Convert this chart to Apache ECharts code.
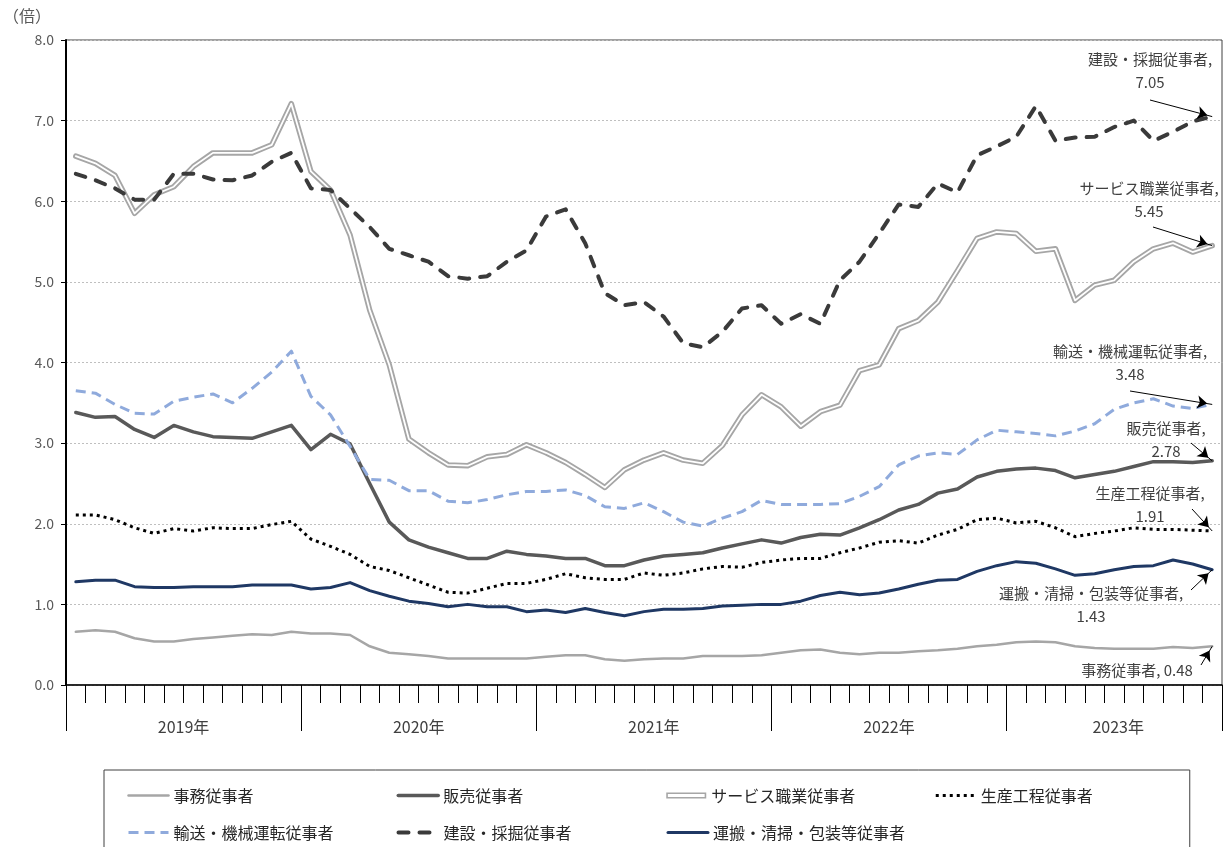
<!DOCTYPE html>
<html>
<head>
<meta charset="utf-8">
<script src="https://cdn.jsdelivr.net/npm/echarts@6/dist/echarts.min.js"></script>
<style>
  html, body { margin: 0; padding: 0; background: #fff; }
  #chart { width: 1228px; height: 847px; }
</style>
</head>
<body>
<div id="chart"></div>
<script>
// Monthly job-openings-to-applicants ratio by occupation, Jan 2019 – Nov 2023
const years = ['2019年', '2020年', '2021年', '2022年', '2023年'];
const monthsPerYear = [12, 12, 12, 12, 11];
const categories = [];
years.forEach((y, k) => {
  for (let m = 1; m <= monthsPerYear[k]; m++) categories.push(y + m + '月');
});

const seriesNames = [
  '事務従事者', '販売従事者', 'サービス職業従事者', '生産工程従事者',
  '輸送・機械運転従事者', '建設・採掘従事者', '運搬・清掃・包装等従事者'
];

const jimu = [0.66,0.68,0.66,0.58,0.54,0.54,0.57,0.59,0.61,0.63,0.62,0.66,
  0.64,0.64,0.62,0.48,0.40,0.38,0.36,0.33,0.33,0.33,0.33,0.33,
  0.35,0.37,0.37,0.32,0.30,0.32,0.33,0.33,0.36,0.36,0.36,0.37,
  0.40,0.43,0.44,0.40,0.38,0.40,0.40,0.42,0.43,0.45,0.48,0.50,
  0.53,0.54,0.53,0.48,0.46,0.45,0.45,0.45,0.47,0.46,0.48];

const hanbai = [3.38,3.32,3.33,3.17,3.07,3.22,3.14,3.08,3.07,3.06,3.14,3.22,
  2.92,3.11,2.99,2.50,2.02,1.80,1.71,1.64,1.57,1.57,1.66,1.62,
  1.60,1.57,1.57,1.48,1.48,1.55,1.60,1.62,1.64,1.70,1.75,1.80,
  1.76,1.83,1.87,1.86,1.95,2.05,2.17,2.24,2.38,2.43,2.58,2.65,
  2.68,2.69,2.66,2.57,2.61,2.65,2.71,2.77,2.77,2.76,2.78];

const service = [6.56,6.47,6.32,5.85,6.08,6.18,6.43,6.60,6.60,6.60,6.70,7.21,
  6.37,6.14,5.58,4.65,3.97,3.05,2.88,2.73,2.72,2.83,2.86,2.98,
  2.88,2.76,2.61,2.45,2.67,2.79,2.88,2.79,2.75,2.97,3.35,3.60,
  3.45,3.21,3.39,3.47,3.90,3.97,4.42,4.52,4.75,5.14,5.54,5.62,
  5.60,5.38,5.41,4.77,4.96,5.02,5.25,5.41,5.48,5.37,5.45];

const seisan = [2.11,2.11,2.05,1.95,1.88,1.94,1.91,1.95,1.94,1.94,1.99,2.03,
  1.81,1.72,1.62,1.47,1.42,1.33,1.24,1.15,1.14,1.20,1.26,1.26,
  1.31,1.38,1.33,1.31,1.31,1.39,1.36,1.39,1.44,1.47,1.46,1.52,
  1.55,1.57,1.57,1.64,1.70,1.77,1.79,1.76,1.86,1.93,2.05,2.07,
  2.01,2.03,1.95,1.84,1.88,1.91,1.95,1.93,1.93,1.92,1.91];

const yuso = [3.65,3.62,3.48,3.37,3.36,3.52,3.57,3.61,3.50,3.68,3.88,4.14,
  3.58,3.35,2.96,2.55,2.54,2.41,2.41,2.28,2.26,2.30,2.36,2.40,
  2.40,2.42,2.35,2.21,2.19,2.26,2.15,2.02,1.97,2.07,2.15,2.29,
  2.24,2.24,2.24,2.25,2.34,2.46,2.73,2.84,2.88,2.86,3.04,3.16,
  3.14,3.12,3.09,3.15,3.24,3.42,3.50,3.55,3.46,3.43,3.48];

const kensetsu = [6.34,6.26,6.16,6.02,6.02,6.34,6.34,6.27,6.26,6.32,6.49,6.60,
  6.16,6.14,5.91,5.68,5.41,5.33,5.25,5.07,5.04,5.07,5.25,5.39,
  5.81,5.90,5.48,4.86,4.71,4.75,4.57,4.24,4.19,4.38,4.67,4.71,
  4.48,4.60,4.48,5.02,5.25,5.60,5.96,5.93,6.22,6.11,6.57,6.68,
  6.80,7.18,6.75,6.79,6.80,6.92,7.00,6.75,6.86,6.99,7.05];

const unpan = [1.28,1.30,1.30,1.22,1.21,1.21,1.22,1.22,1.22,1.24,1.24,1.24,
  1.19,1.21,1.27,1.17,1.10,1.04,1.01,0.97,1.00,0.97,0.97,0.91,
  0.93,0.90,0.95,0.90,0.86,0.91,0.94,0.94,0.95,0.98,0.99,1.00,
  1.00,1.04,1.11,1.15,1.12,1.14,1.19,1.25,1.30,1.31,1.41,1.48,
  1.53,1.51,1.44,1.36,1.38,1.43,1.47,1.48,1.55,1.50,1.43];

const yTickLabels = ['0.0','1.0','2.0','3.0','4.0','5.0','6.0','7.0','8.0'];

const FONT = '"Noto Sans CJK JP", "Noto Sans", sans-serif';
const last = categories.length - 1;

// arrow from a label anchor (pixels) to the final data point of a series
function arrowTo(values, sx, sy) {
  return {
    silent: true,
    animation: false,
    symbol: ['none', 'arrow'],
    symbolSize: 10,
    symbolOffset: [0, [0, 5]],
    lineStyle: { color: '#000', width: 1, type: 'solid', cap: 'butt' },
    itemStyle: { color: '#000' },
    label: { show: false },
    emphasis: { disabled: true },
    data: [[{ x: sx, y: sy }, { coord: [categories[last], values[last]] }]]
  };
}

function lineSeries(name, values, color, width, dash, cap, extra) {
  return Object.assign({
    name: name,
    type: 'line',
    data: values,
    symbol: 'none',
    smooth: false,
    animation: false,
    color: color,
    lineStyle: { color: color, width: width, type: dash, cap: cap || 'butt', join: 'round' },
    emphasis: { disabled: true }
  }, extra || {});
}

// callout texts: name, latest value, centre x, first-line centre y
const callouts = [
  { name: seriesNames[5], values: kensetsu, x: 1150, y: 59, two: true },
  { name: seriesNames[2], values: service, x: 1149, y: 188, two: true },
  { name: seriesNames[4], values: yuso, x: 1130, y: 351, two: true },
  { name: seriesNames[1], values: hanbai, x: 1166, y: 428, two: true },
  { name: seriesNames[3], values: seisan, x: 1150, y: 493, two: true },
  { name: seriesNames[6], values: unpan, x: 1091, y: 593, two: true },
  { name: seriesNames[0], values: jimu, x: 1137, y: 670, two: false }
];
const LINE_H = 23;
const graphicTexts = callouts.map(c => ({
  type: 'text',
  z: 100,
  style: {
    text: c.two ? c.name + ',\n' + c.values[last].toFixed(2) : c.name + ', ' + c.values[last].toFixed(2),
    x: c.x,
    y: c.y - LINE_H / 2,
    align: 'center',
    verticalAlign: 'top',
    lineHeight: LINE_H,
    fill: '#404040',
    font: '15px ' + FONT
  }
}));
graphicTexts.push({
  type: 'text',
  style: { text: '（倍）', x: 3, y: 8, fill: '#595959', font: '16px ' + FONT }
});

const chart = echarts.init(document.getElementById('chart'), null, { renderer: 'canvas' });

chart.setOption({
  backgroundColor: '#fff',
  textStyle: { fontFamily: FONT },
  animation: false,
  grid: {
    left: 66, right: 6, top: 40, bottom: 162,
    show: true, borderColor: '#404040', borderWidth: 1, backgroundColor: 'transparent'
  },
  xAxis: [
    {
      type: 'category',
      data: categories,
      position: 'bottom',
      boundaryGap: true,
      axisLine: { show: true, lineStyle: { color: '#000', width: 1.5 } },
      axisTick: { show: true, interval: 0, length: 18, lineStyle: { color: '#000', width: 1 } },
      axisLabel: { show: false },
      splitLine: { show: false }
    },
    {
      type: 'category',
      data: categories,
      position: 'bottom',
      boundaryGap: true,
      axisLine: { show: false },
      axisTick: {
        show: true,
        interval: (i) => i % 12 === 0,
        length: 46,
        lineStyle: { color: '#000', width: 1 }
      },
      axisLabel: {
        show: true,
        interval: (i) => i % 12 === 5,
        margin: 34,
        fontSize: 16,
        color: '#404040',
        formatter: (v, i) => {
          const y = v.slice(0, 5);
          return i === 53 ? '{n|' + y + '}' : '{s|' + y + '}';
        },
        rich: {
          s: { fontSize: 16, color: '#404040', padding: [0, 0, 0, 19.6], fontFamily: FONT },
          n: { fontSize: 16, color: '#404040', padding: [0, 0, 0, 8], fontFamily: FONT }
        }
      },
      splitLine: { show: false }
    }
  ],
  yAxis: {
    type: 'value',
    min: 0, max: 8, interval: 1,
    axisLine: { show: true, lineStyle: { color: '#000', width: 2 } },
    axisTick: { show: true, length: 5, lineStyle: { color: '#000', width: 1 } },
    axisLabel: {
      color: '#595959', fontSize: 14, margin: 12,
      formatter: (v) => yTickLabels[Math.round(v)]
    },
    splitLine: { show: true, lineStyle: { color: '#bfbfbf', width: 1, type: [2, 2] } }
  },
  legend: {
    left: 104, top: 770,
    width: 1060,
    orient: 'horizontal',
    padding: [17, 6, 60, 23],
    borderColor: '#404040', borderWidth: 1,
    itemWidth: 40, itemHeight: 14, itemGap: 20,
    selectedMode: false,
    itemStyle: { opacity: 0 },
    lineStyle: { width: 'inherit' },
    textStyle: { fontSize: 16, color: '#262626', width: 203, lineHeight: 17, fontFamily: FONT },
    data: [
      { name: seriesNames[0] },
      { name: seriesNames[1] },
      {
        name: seriesNames[2],
        icon: 'path://M0,0H40V6H0Z M1.6,1.6V4.4H38.4V1.6Z',
        itemStyle: { color: '#a6a6a6', borderWidth: 0, opacity: 1 }
      },
      { name: seriesNames[3] },
      { name: seriesNames[4] },
      { name: seriesNames[5] },
      { name: seriesNames[6] }
    ]
  },
  graphic: graphicTexts,
  series: [
    lineSeries(seriesNames[0], jimu, '#a6a6a6', 2.5, 'solid', 'round', { markLine: arrowTo(jimu, 1201, 665) }),
    lineSeries(seriesNames[6], unpan, '#1f3864', 3, 'solid', 'round', { markLine: arrowTo(unpan, 1191, 590) }),
    lineSeries(seriesNames[3], seisan, '#000000', 3, [3, 4], 'butt', { markLine: arrowTo(seisan, 1192, 509) }),
    lineSeries(seriesNames[1], hanbai, '#595959', 3.5, 'solid', 'round', { markLine: arrowTo(hanbai, 1191, 443) }),
    lineSeries(seriesNames[4], yuso, '#8faadc', 3, [10, 6], 'butt', { markLine: arrowTo(yuso, 1130, 391) }),
    lineSeries(seriesNames[2], service, '#a6a6a6', 5.5, 'solid', 'round', { markLine: arrowTo(service, 1153, 227) }),
    lineSeries(seriesNames[2], service, '#ffffff', 1.8, 'solid', 'round'),
    lineSeries(seriesNames[5], kensetsu, '#3a3a3a', 4, [10, 11], 'round', { markLine: arrowTo(kensetsu, 1150, 100) })
  ]
});
</script>
</body>
</html>
